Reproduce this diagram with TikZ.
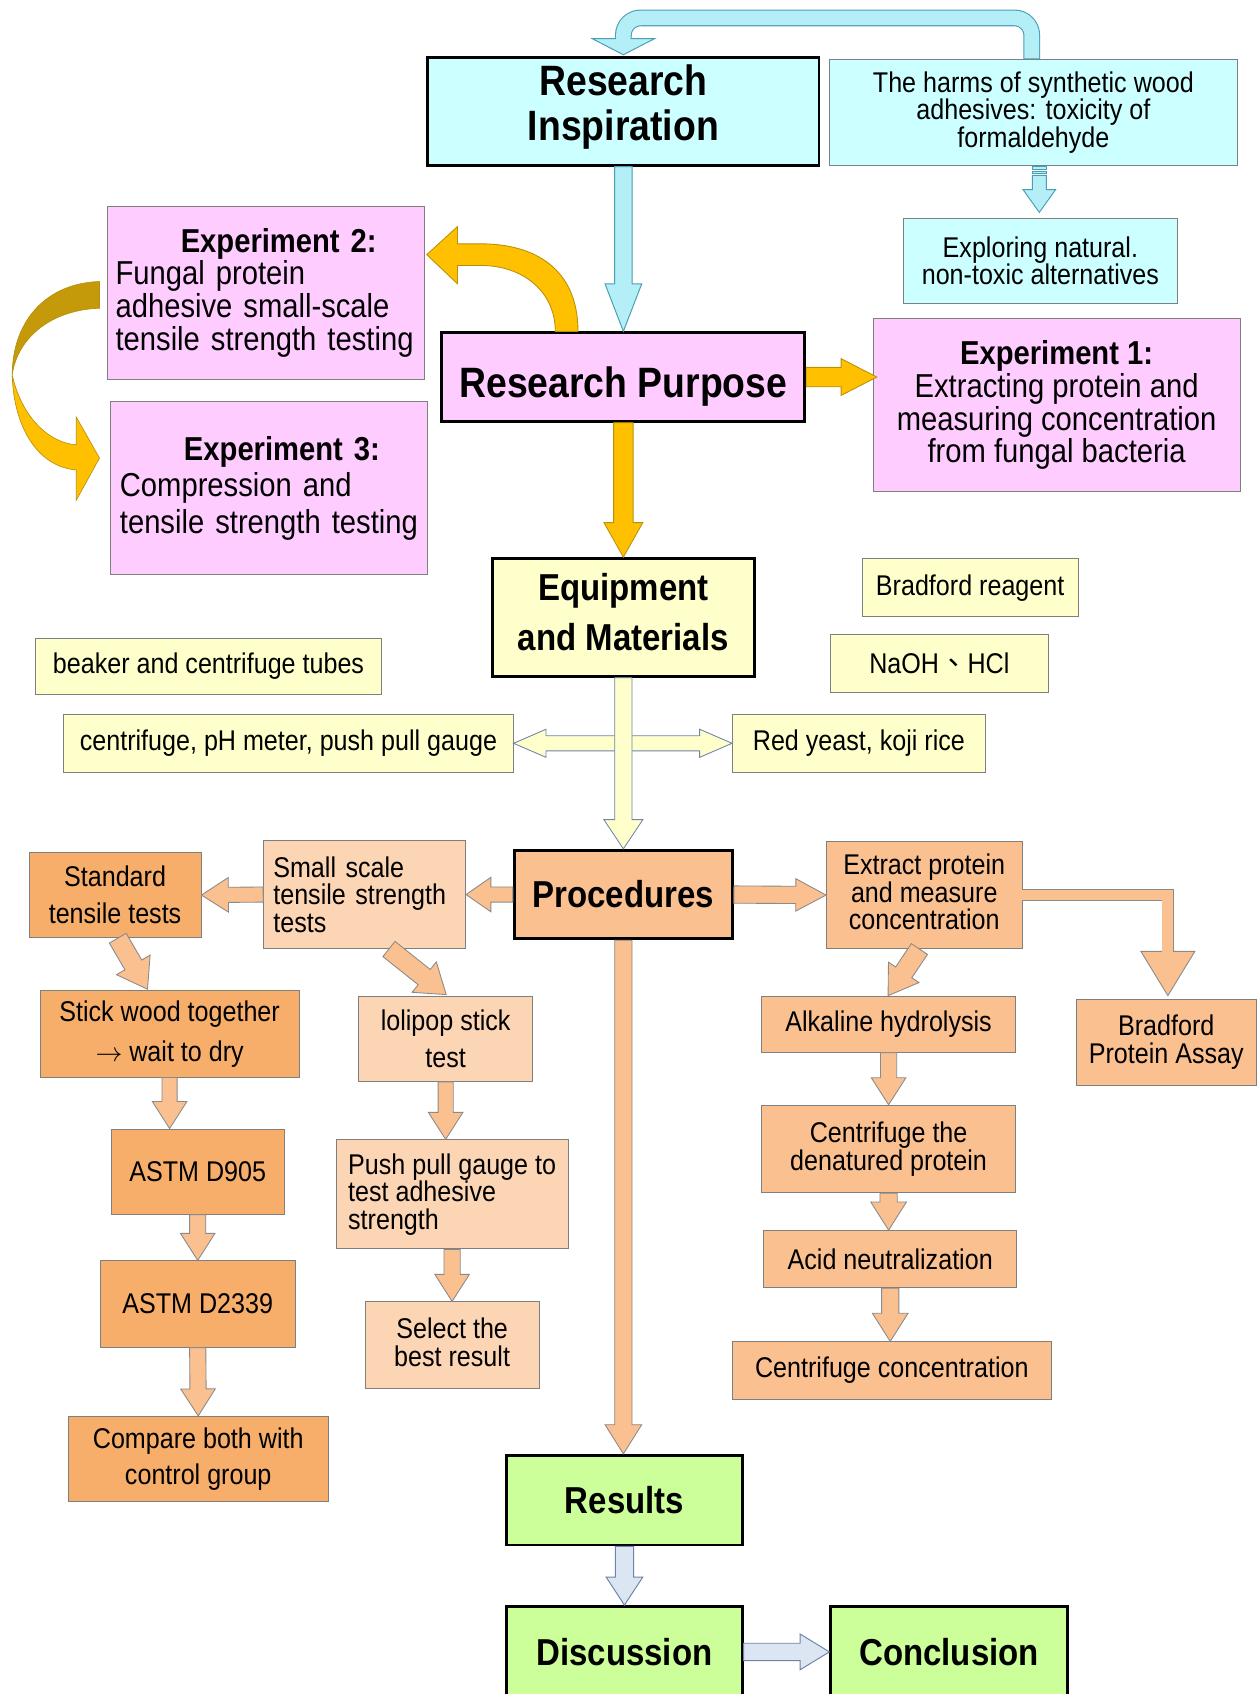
\documentclass[tikz,border=0pt]{standalone}
\usepackage{fontspec}
\setmainfont[FakeStretch=0.88]{Liberation Sans}
\newfontfamily\cjkfont{Noto Sans CJK TC}
\usetikzlibrary{calc}

\definecolor{cyanbox}{HTML}{CCFFFF}
\definecolor{pinkbox}{HTML}{FFCCFF}
\definecolor{yelbox}{HTML}{FFFFCC}
\definecolor{peach}{HTML}{FAC090}
\definecolor{lpeach}{HTML}{FCD5B5}
\definecolor{dorange}{HTML}{F7AE6A}
\definecolor{greenbox}{HTML}{CCFF99}
\definecolor{boxedge}{HTML}{7F7F7F}
\definecolor{arrcyan}{HTML}{B4EEF6}
\definecolor{edgecyan}{HTML}{4A9FB5}
\definecolor{arrgold}{HTML}{FFC000}
\definecolor{golddark}{HTML}{C49A0A}
\definecolor{edgegold}{HTML}{B8900A}
\definecolor{arrblue}{HTML}{DCE6F2}
\definecolor{edgeblue}{HTML}{6E84A8}
\definecolor{edgegray}{HTML}{8A8A8A}

\newcommand{\fsz}[2]{\fontsize{#1}{#2}\selectfont}
% block arrow: style, from, to, half shaft, half head, head length
\newcommand{\barrow}[6][]{%
  \coordinate (hb) at ($(#3)!#6!(#2)$);
  \draw[#1] ($(#2)!#4!90:(#3)$) -- ($(hb)!#4!-90:(#2)$) -- ($(hb)!#5!-90:(#2)$) -- (#3)
    -- ($(hb)!#5!90:(#2)$) -- ($(hb)!#4!90:(#2)$) -- ($(#2)!#4!-90:(#3)$) -- cycle;}

\begin{document}
\begin{tikzpicture}[x=1pt, y=-1pt,
    hbox/.style={draw, line width=2.6pt, inner sep=0pt, align=center, font=\fsz{34.7}{40}\bfseries},
    ibox/.style={draw=boxedge, line width=0.8pt, inner sep=0pt, align=center, font=\fsz{26.4}{25.5}},
    ebox/.style={ibox, fill=pinkbox, font=\fsz{30.7}{30.3}},
    cyanarr/.style={fill=arrcyan, draw=edgecyan, line width=0.9pt},
    goldarr/.style={fill=arrgold, draw=edgegold, line width=0.8pt},
    yelarr/.style={fill=yelbox, draw=edgeblue, line width=0.8pt},
    peacharr/.style={fill=peach, draw=edgegray, line width=0.8pt},
    bluearr/.style={fill=arrblue, draw=edgeblue, line width=0.9pt}]
  \fill[white] (0,0) rectangle (1164,1568);
  \useasboundingbox (0,0) rectangle (1164,1568);

  % inspiration and purpose
  \node[hbox, fill=cyanbox, minimum width=362, minimum height=100, text depth=16pt, font=\fsz{39.3}{41}\bfseries] (ri) at (577,103) {Research\\Inspiration};
  \node[ibox, fill=cyanbox, minimum width=377, minimum height=98] (harm) at (956.5,104) {The harms of synthetic wood\\adhesives: toxicity of\\formaldehyde};
  \node[ibox, fill=cyanbox, minimum width=254, minimum height=79] (explore) at (963,241.5) {Exploring natural.\\non-toxic alternatives};
  \node[hbox, fill=pinkbox, minimum width=336, minimum height=82, text height=38pt, text depth=0pt, font=\fsz{39.3}{41}\bfseries] (rp) at (577,349) {Research Purpose};
  \node[ebox, minimum width=294, minimum height=160, text width=278, align=left] (exp2) at (246,271)
    {\makebox[\linewidth]{\hspace{24pt}\bfseries Experiment 2:}\\Fungal protein\\adhesive small-scale\\tensile strength testing};
  \node[ebox, minimum width=294, minimum height=160, text width=276, align=left, font=\fsz{30.7}{33.5}] (exp3) at (249,452)
    {\makebox[\linewidth]{\hspace{24pt}\bfseries Experiment 3:}\\Compression and\\tensile strength testing};
  \node[ebox, minimum width=340, minimum height=160] (exp1) at (978,375)
    {\textbf{Experiment 1:}\\Extracting protein and\\measuring concentration\\from fungal bacteria};

  % equipment and materials
  \node[hbox, fill=yelbox, minimum width=242, minimum height=109, text depth=10pt, font=\fsz{34.7}{46}\bfseries] (equip) at (577,571.5) {Equipment\\and Materials};
  \node[ibox, fill=yelbox, minimum width=200, minimum height=54] (bradr) at (898,544) {Bradford reagent};
  \node[ibox, fill=yelbox, minimum width=201, minimum height=54] (naoh) at (869.5,614) {NaOH{\cjkfont 、}HCl};
  \node[ibox, fill=yelbox, minimum width=320, minimum height=52] (beaker) at (193,617) {beaker and centrifuge tubes};
  \node[ibox, fill=yelbox, minimum width=416, minimum height=54] (cent) at (267,688) {centrifuge, pH meter, push pull gauge};
  \node[ibox, fill=yelbox, minimum width=234, minimum height=54] (yeast) at (795,688) {Red yeast, koji rice};

  % procedures
  \node[hbox, fill=peach, minimum width=202, minimum height=82] (proc) at (577,828) {Procedures};
  \node[ibox, fill=lpeach, minimum width=187, minimum height=100, text width=169, align=left] (small) at (337.5,828) {Small scale\\tensile strength\\tests};
  \node[ibox, fill=dorange, minimum width=159, minimum height=79, font=\fsz{26.4}{34}] (std) at (106.5,828.5) {Standard\\tensile tests};
  \node[ibox, fill=dorange, minimum width=240, minimum height=80, font=\fsz{26.4}{37}] (stick) at (157,957) {Stick wood together\\$\rightarrow$ wait to dry};
  \node[ibox, fill=dorange, minimum width=160, minimum height=79] (d905) at (183,1084.5) {ASTM D905};
  \node[ibox, fill=dorange, minimum width=180, minimum height=80] (d2339) at (183,1207) {ASTM D2339};
  \node[ibox, fill=dorange, minimum width=241, minimum height=79, font=\fsz{26.4}{34}] (comp) at (183.5,1350.5) {Compare both with\\control group};
  \node[ibox, fill=lpeach, minimum width=161, minimum height=79, font=\fsz{26.4}{34}] (loli) at (412.5,961.5) {lolipop stick\\test};
  \node[ibox, fill=lpeach, minimum width=215, minimum height=101, align=left] (push) at (418.5,1105.5) {Push pull gauge to\\test adhesive\\strength};
  \node[ibox, fill=lpeach, minimum width=161, minimum height=80, text depth=5pt] (sel) at (418.5,1245) {Select the\\best result};
  \node[ibox, fill=peach, minimum width=181, minimum height=99, text depth=6pt] (extr) at (855.5,828.5) {Extract protein\\and measure\\concentration};
  \node[ibox, fill=peach, minimum width=167, minimum height=80, font=\fsz{26.4}{26}] (bpa) at (1079.5,965) {Bradford\\Protein Assay};
  \node[ibox, fill=peach, minimum width=235, minimum height=52] (alk) at (822.5,948) {Alkaline hydrolysis};
  \node[ibox, fill=peach, minimum width=235, minimum height=81, font=\fsz{26.4}{26}] (cden) at (822.5,1063.5) {Centrifuge the\\denatured protein};
  \node[ibox, fill=peach, minimum width=234, minimum height=53] (acid) at (824,1165.5) {Acid neutralization};
  \node[ibox, fill=peach, minimum width=295, minimum height=53] (ccon) at (825.5,1268.5) {Centrifuge concentration};

  % results
  \node[hbox, fill=greenbox, minimum width=218, minimum height=83] (res) at (578,1388.5) {Results};
  \node[hbox, fill=greenbox, minimum width=218, minimum height=84] (disc) at (578,1529) {Discussion};
  \node[hbox, fill=greenbox, minimum width=219, minimum height=84] (conc) at (878.5,1529) {Conclusion};

  % loop from the harms back to the inspiration
  \coordinate (lstart) at ($(harm.north)+(-1.5,0)$);
  \coordinate (lbase) at ($(ri.north)+(0,-16)$);
  \coordinate (ltip) at ($(ri.north)+(0,-1)$);
  \draw[edgecyan, line width=15.5pt, rounded corners=16pt] (lstart) -- ++(0,-38) -| (lbase);
  \draw[cyanarr] ($(lbase)+(-29,0)$) -- ($(lbase)+(29,0)$) -- (ltip) -- cycle;
  \draw[arrcyan, line width=13.5pt, rounded corners=16pt] ($(lstart)+(0,-0.5)$) -- ++(0,-37.5) -| ($(lbase)+(0,1.5)$);

  % striped arrow
  \coordinate (s0) at ($(harm.south)+(5.5,9)$);
  \coordinate (s1) at ($(explore.north)+(-1,-5)$);
  \barrow[cyanarr]{s0}{s1}{6.5pt}{15pt}{21pt}
  \draw[cyanarr] ($(s0)+(-6.5,-8)$) rectangle ($(s0)+(6.5,-5.5)$);
  \draw[cyanarr] ($(s0)+(-6.5,-4)$) rectangle ($(s0)+(6.5,-2)$);

  \barrow[cyanarr]{ri.south}{rp.north}{8pt}{17pt}{44pt}

  % purpose to the experiments
  \begin{scope}[shift={(rp.north)}]
    \draw[goldarr] (-63,0) -- (-42,0) .. controls (-42,-58) and (-82,-81) .. (-132,-81) -- (-153.5,-81)
      -- (-153.5,-97) -- (-182,-71) -- (-153.5,-44) -- (-153.5,-61) -- (-132,-61)
      .. controls (-92,-61) and (-63,-36) .. (-63,0) -- cycle;
  \end{scope}
  \begin{scope}[shift={(exp2.west)}]
    \draw[fill=golddark, draw=edgegold, line width=0.6pt] (-6.5,-10.4) .. controls (-54,-9) and (-87,24) .. (-87.3,76)
      .. controls (-83,44) and (-54,16) .. (-6.5,14.3) -- cycle;
    \draw[goldarr, line width=0.6pt] (-87.3,76) .. controls (-86,124) and (-64,161) .. (-28,164) -- (-28,192)
      -- (-6.5,153) -- (-28,115) -- (-28,140.7) .. controls (-54,139) and (-79,114) .. (-87.3,76) -- cycle;
  \end{scope}
  \coordinate (e1) at ($(rp.east -| exp1.west)+(4,0)$);
  \barrow[goldarr]{rp.east}{e1}{9pt}{17pt}{33pt}
  \barrow[goldarr]{rp.south}{equip.north}{9pt}{18pt}{32pt}

  % equipment
  \coordinate (dmid) at (equip.south |- cent.east);
  \barrow[yelarr]{dmid}{cent.east}{7pt}{13pt}{30pt}
  \barrow[yelarr]{dmid}{yeast.west}{7pt}{13pt}{30pt}
  \barrow[yelarr]{equip.south}{proc.north}{8pt}{18pt}{27pt}

  % procedures
  \barrow[peacharr]{proc.west}{small.east}{7pt}{16pt}{23pt}
  \barrow[peacharr]{small.west}{std.east}{7pt}{16pt}{25pt}
  \barrow[peacharr]{proc.east}{extr.west}{8pt}{15pt}{28pt}
  \coordinate (a1) at ($(std.south)+(2.5,0)$);
  \coordinate (a2) at ($(stick.north)+(-20.5,-1)$);
  \barrow[peacharr]{a1}{a2}{9pt}{18pt}{26pt}
  \coordinate (b1) at ($(small.south)+(22.5,0)$);
  \coordinate (b2) at ($(loli.north)+(0.5,-1)$);
  \barrow[peacharr]{b1}{b2}{9pt}{18pt}{26pt}
  \coordinate (c1) at ($(extr.south)+(-4.5,0)$);
  \coordinate (c2) at ($(alk.north)+(-0.5,0)$);
  \barrow[peacharr]{c1}{c2}{9pt}{17pt}{26pt}
  \coordinate (f1) at (stick.south |- d905.north);
  \barrow[peacharr]{stick.south}{f1}{7pt}{16pt}{25pt}
  \coordinate (f2) at (loli.south |- push.north);
  \barrow[peacharr]{loli.south}{f2}{7pt}{16pt}{25pt}
  \coordinate (f3) at (cden.south |- acid.north);
  \barrow[peacharr]{cden.south}{f3}{8pt}{16.5pt}{26pt}
  \coordinate (f4) at (acid.south |- ccon.north);
  \barrow[peacharr]{acid.south}{f4}{8pt}{16.5pt}{26pt}
  \foreach \a/\b in {d905/d2339, d2339/comp, push/sel, alk/cden}
    \barrow[peacharr]{\a.south}{\b.north}{7.5pt}{16pt}{25pt};
  % elbow to the assay
  \coordinate (ebase) at ($(bpa.north)+(1.5,-44)$);
  \coordinate (etip) at ($(bpa.north)+(1.5,-3)$);
  \draw[edgegray, line width=11.6pt] (extr.east) -| (ebase);
  \draw[peacharr] ($(ebase)+(-25,0)$) -- ($(ebase)+(25,0)$) -- (etip) -- cycle;
  \draw[peach, line width=10pt] (extr.east) -| ($(ebase)+(0,1.5)$);

  % to the results
  \coordinate (g1) at (proc.south |- res.north);
  \barrow[peacharr]{proc.south}{g1}{8pt}{17pt}{27pt}
  \barrow[bluearr]{res.south}{disc.north}{8.5pt}{17pt}{26pt}
  \barrow[bluearr]{disc.east}{conc.west}{8pt}{16.5pt}{27pt}
\end{tikzpicture}
\end{document}
